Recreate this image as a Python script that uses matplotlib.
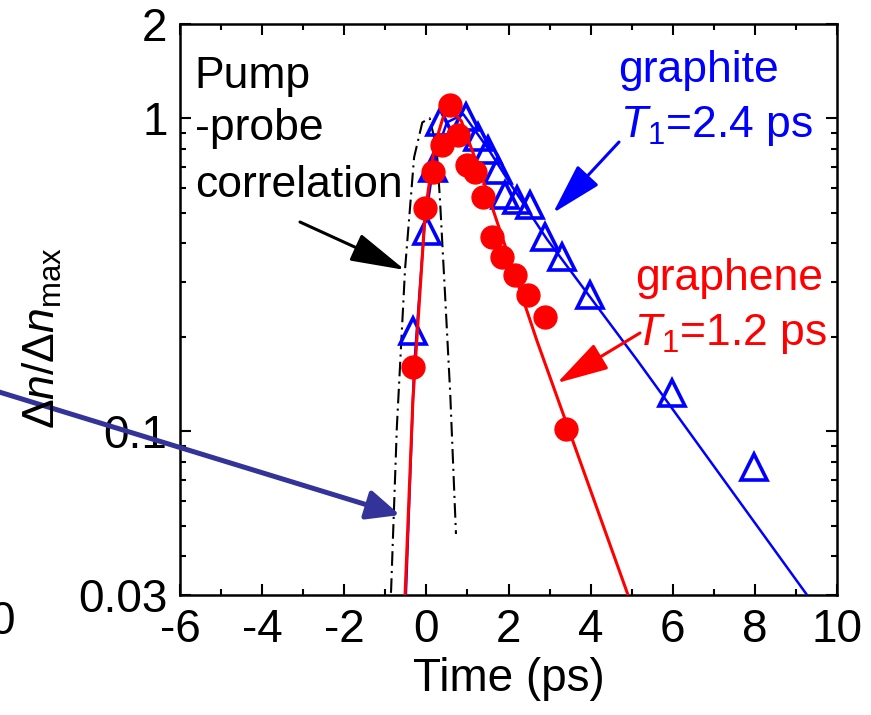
import matplotlib
matplotlib.use("Agg")
import matplotlib.pyplot as plt
from matplotlib.ticker import FixedLocator, LogLocator, NullFormatter, FixedFormatter, MultipleLocator

plt.rcParams["font.family"] = ["Liberation Sans", "DejaVu Sans"]
plt.rcParams["mathtext.fontset"] = "custom"
plt.rcParams["mathtext.rm"] = "Liberation Sans"
plt.rcParams["mathtext.it"] = "Liberation Sans:italic"
plt.rcParams["axes.unicode_minus"] = False

# graphite data (open triangles)
graphite_t = [-0.33, 0.01, 0.16, 0.33, 0.96, 1.25, 1.50, 1.74, 1.92, 2.21, 2.52, 2.89, 3.30, 3.99, 5.98, 7.98]
graphite_n = [0.209, 0.436, 0.693, 0.973, 1.01, 0.871, 0.791, 0.684, 0.569, 0.548, 0.528, 0.417, 0.360, 0.272, 0.133, 0.077]

# graphene data (filled circles)
graphene_t = [-0.33, -0.03, 0.16, 0.38, 0.57, 0.77, 0.99, 1.18, 1.38, 1.60, 1.84, 2.16, 2.48, 2.89, 3.40]
graphene_n = [0.160, 0.517, 0.673, 0.821, 1.10, 0.883, 0.710, 0.673, 0.560, 0.417, 0.360, 0.316, 0.272, 0.232, 0.102]

# fitted curves
fit_graphite_t = [-0.50, -0.30, -0.05, 0.20, 0.50, 0.90, 1.50, 2.00, 2.94, 5.13, 9.27, 9.60]
fit_graphite_n = [0.030, 0.160, 0.450, 0.750, 0.970, 1.030, 0.800, 0.630, 0.410, 0.169, 0.030, 0.026]
fit_graphene_t = [-0.52, -0.33, -0.03, 0.20, 0.40, 0.55, 0.85, 1.38, 2.69, 4.91, 5.10]
fit_graphene_n = [0.030, 0.125, 0.500, 0.820, 1.000, 1.080, 0.980, 0.635, 0.195, 0.030, 0.026]

# pump-probe correlation (dash-dot)
corr_t = [-0.92, -0.86, -0.72, -0.52, -0.30, -0.10, 0.08, 0.25, 0.33, 0.45, 0.58, 0.72]
corr_n = [0.025, 0.031, 0.103, 0.330, 0.750, 0.970, 1.000, 0.800, 0.550, 0.280, 0.132, 0.047]

ytick_vals = [0.03, 0.1, 1, 2]
ytick_labels = ["0.03", "0.1", "1", "2"]

fig = plt.figure(figsize=(8.71, 7.15), dpi=100)
ax = fig.add_axes([0.2067, 0.1678, 0.7543, 0.7986])

ax.plot(corr_t, corr_n, color="black", lw=1.5, ls=(0, (7, 2.5, 1, 2.5)), zorder=2)
ax.plot(fit_graphite_t, fit_graphite_n, color="#0000ff", lw=1.8, zorder=3)
ax.plot(graphite_t, graphite_n, ls="none", marker="^", ms=19, mfc="none",
        mec="#0000ff", mew=2.6, zorder=4)
ax.plot(fit_graphene_t, fit_graphene_n, color="#ff0000", lw=2.2, zorder=5)
ax.plot(graphene_t, graphene_n, ls="none", marker="o", ms=16.5, mfc="#ff0000",
        mec="#ff0000", zorder=6)

ax.set_yscale("log")
ax.set_xlim(-6, 10)
ax.set_ylim(0.03, 2)
ax.xaxis.set_major_locator(MultipleLocator(2))
ax.xaxis.set_minor_locator(MultipleLocator(1))
ax.yaxis.set_major_locator(FixedLocator(ytick_vals))
ax.yaxis.set_major_formatter(FixedFormatter(ytick_labels))
ax.yaxis.set_minor_locator(LogLocator(base=10, subs=range(2, 10)))
ax.yaxis.set_minor_formatter(NullFormatter())

for s in ax.spines.values():
    s.set_linewidth(1.8)
ax.tick_params(which="both", direction="in", top=True, right=True, width=1.5)
ax.tick_params(which="major", length=8, labelsize=33, pad=9)
ax.tick_params(which="minor", length=4.5)

ax.set_xlabel("Time (ps)", fontsize=33, labelpad=4)

fig.text(55 / 871, 1 - 338 / 715, r"$\Delta\mathit{n}/\Delta\mathit{n}_{\mathrm{max}}$",
         fontsize=32, rotation=90, rotation_mode="anchor", ha="center", va="baseline")
# leftover tick label of the neighbouring panel, cut at the edge
fig.text(2 / 871, 1 - 634 / 715, "0", fontsize=33, ha="center", va="baseline")

fig.text(0.2227, 0.8769, "Pump", fontsize=32, va="baseline")
fig.text(0.2239, 0.8042, "-probe", fontsize=32, va="baseline")
fig.text(0.2239, 0.7245, "correlation", fontsize=32, va="baseline")
fig.text(0.7095, 0.8853, "graphite", fontsize=32, color="#0000ff", va="baseline")
fig.text(0.7120, 0.8084, r"$\mathit{T}_{\mathit{1}}$=2.4 ps", fontsize=32, color="#0000ff", va="baseline")
fig.text(0.7290, 0.5944, "graphene", fontsize=32, color="#ff0000", va="baseline")
fig.text(0.7280, 0.5175, r"$\mathit{T}_{\mathit{1}}$=1.2 ps", fontsize=32, color="#ff0000", va="baseline")

def arrow(tail, head, color, lw, hl, hw):
    ax.annotate("", xy=head, xytext=tail, xycoords="figure fraction",
                textcoords="figure fraction", annotation_clip=False,
                arrowprops=dict(arrowstyle=f"-|>,head_length={hl},head_width={hw}",
                                color=color, lw=lw, shrinkA=0, shrinkB=0,
                                mutation_scale=20))

arrow((0.3444, 0.6895), (0.4650, 0.6224), "black", 2.2, 1.7, 0.45)
arrow((0.7107, 0.8014), (0.6349, 0.7021), "#0000ff", 2.2, 1.6, 0.45)
arrow((0.7348, 0.5343), (0.6395, 0.4643), "#ff0000", 2.2, 1.6, 0.45)
arrow((-0.023, 0.4600), (0.4592, 0.2797), "#333399", 3.6, 1.0, 0.45)

fig.savefig("out.png", dpi=100)
